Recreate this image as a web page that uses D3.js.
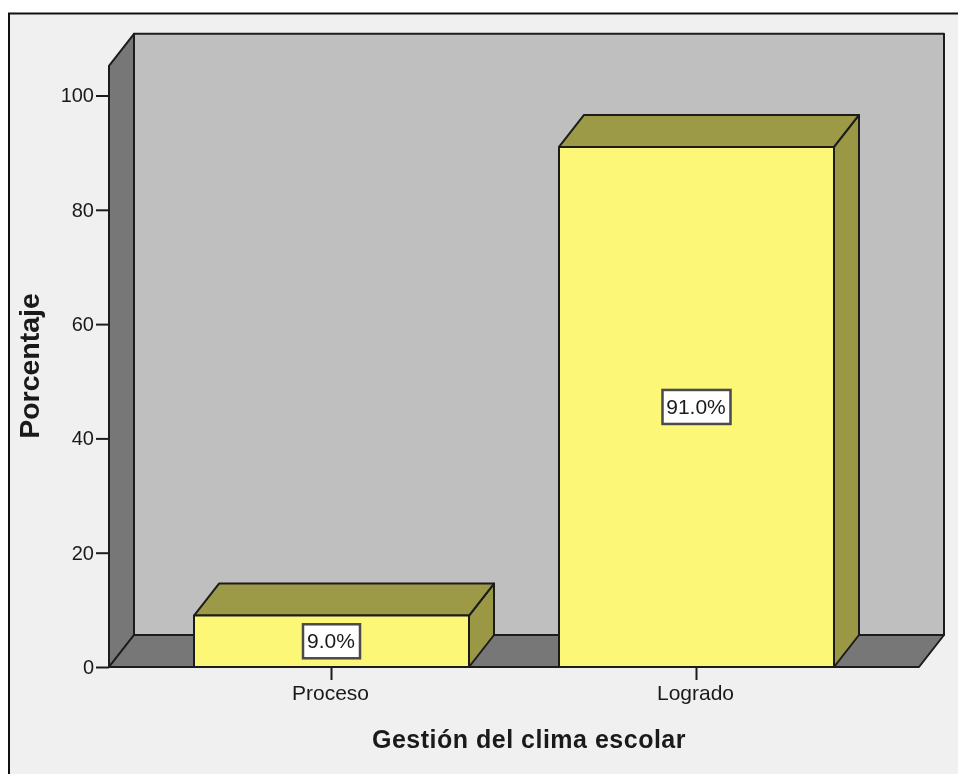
<!DOCTYPE html>
<html>
<head>
<meta charset="utf-8">
<script src="https://cdn.jsdelivr.net/npm/d3@7"></script>
<style>
html,body{margin:0;padding:0;background:#fff;overflow:hidden}
svg{display:block;filter:blur(0.4px)}
text{font-family:"Liberation Sans",Arial,sans-serif;fill:#1a1a1a}
</style>
</head>
<body>
<div id="chart"></div>
<script>
const categorias=["Proceso","Logrado"]
const porcentajes=[9.0,91.0]
const etiquetas=["9.0%","91.0%"]
const ticksY=[0,20,40,60,80,100]
const tituloX="Gestión del clima escolar"
const tituloY="Porcentaje"

const width=958, height=774
// profondeur de la perspective 3D
const dx=25, dy=-32
const trait="#1c1c1c"

const y=d3.scaleLinear().domain([0,100]).range([667,95.5])
const x=d3.scaleBand().domain(categorias).range([109,919])
    .paddingInner(0.2466).paddingOuter(0.2329)
const yHaut=y(105.2)

const svg=d3.select("#chart").append("svg")
    .attr("width",width).attr("height",height)

// cadre de la fenetre
svg.append("rect").attr("x",9).attr("y",13.5)
    .attr("width",width+20).attr("height",height+20)
    .attr("fill","#f0f0f0").attr("stroke","#111").attr("stroke-width",2)

const poly=function(pts,fill,sw=2){
    return svg.append("path")
        .attr("d","M"+pts.map(p=>p.join(",")).join("L")+"Z")
        .attr("fill",fill).attr("stroke",trait)
        .attr("stroke-width",sw).attr("stroke-linejoin","round")
}

const x0=x.range()[0], x1=x.range()[1], y0=y(0)
// mur du fond, mur gauche, sol
poly([[x0+dx,yHaut+dy],[x1+dx,yHaut+dy],[x1+dx,y0+dy],[x0+dx,y0+dy]],"#bfbfbf")
poly([[x0,yHaut],[x0+dx,yHaut+dy],[x0+dx,y0+dy],[x0,y0]],"#777777")
poly([[x0,y0],[x0+dx,y0+dy],[x1+dx,y0+dy],[x1,y0]],"#777777")

// barres
categorias.forEach(function(c,i){
    let l=x(c), r=l+x.bandwidth(), t=y(porcentajes[i])
    poly([[r,t],[r+dx,t+dy],[r+dx,y0+dy],[r,y0]],"#9a9845")
    poly([[l,t],[l+dx,t+dy],[r+dx,t+dy],[r,t]],"#9c9a46")
    poly([[l,t],[r,t],[r,y0],[l,y0]],"#fcf777")
    // etiquette de valeur
    let cx=l+x.bandwidth()/2, cy=(t+y0)/2
    let bw=i==0?57:68
    svg.append("rect").attr("x",cx-bw/2).attr("y",cy-17).attr("width",bw).attr("height",34)
        .attr("fill","#fff").attr("stroke","#4a4a4a").attr("stroke-width",2.5)
    svg.append("text").attr("x",cx-0.5).attr("y",cy+7).attr("text-anchor","middle")
        .attr("font-size",21).text(etiquetas[i])
})

// axes
const axeY=svg.append("g").attr("transform","translate("+x0+",0)")
    .call(d3.axisLeft(y).tickValues(ticksY).tickSize(13).tickPadding(2))
axeY.select(".domain").remove()
axeY.selectAll("line").attr("stroke",trait).attr("stroke-width",2)
axeY.selectAll("text").attr("font-size",20).attr("font-family","Liberation Sans").attr("fill","#1a1a1a")

const axeX=svg.append("g").attr("transform","translate(-1,"+y0+")")
    .call(d3.axisBottom(x).tickSize(13).tickPadding(5))
axeX.select(".domain").remove()
axeX.selectAll("line").attr("stroke",trait).attr("stroke-width",2).attr("transform","translate(1,0)")
axeX.selectAll("text").attr("font-size",21).attr("font-family","Liberation Sans").attr("fill","#1a1a1a")

svg.append("text").attr("x",529).attr("y",748).attr("text-anchor","middle")
    .attr("font-size",25).attr("font-weight","bold").attr("letter-spacing",0.5)
    .attr("fill","#111").text(tituloX)
svg.append("text").attr("transform","translate(38.5,366) rotate(-90)").attr("text-anchor","middle")
    .attr("font-size",28.5).attr("font-weight","bold")
    .attr("fill","#111").text(tituloY)
</script>
</body>
</html>
